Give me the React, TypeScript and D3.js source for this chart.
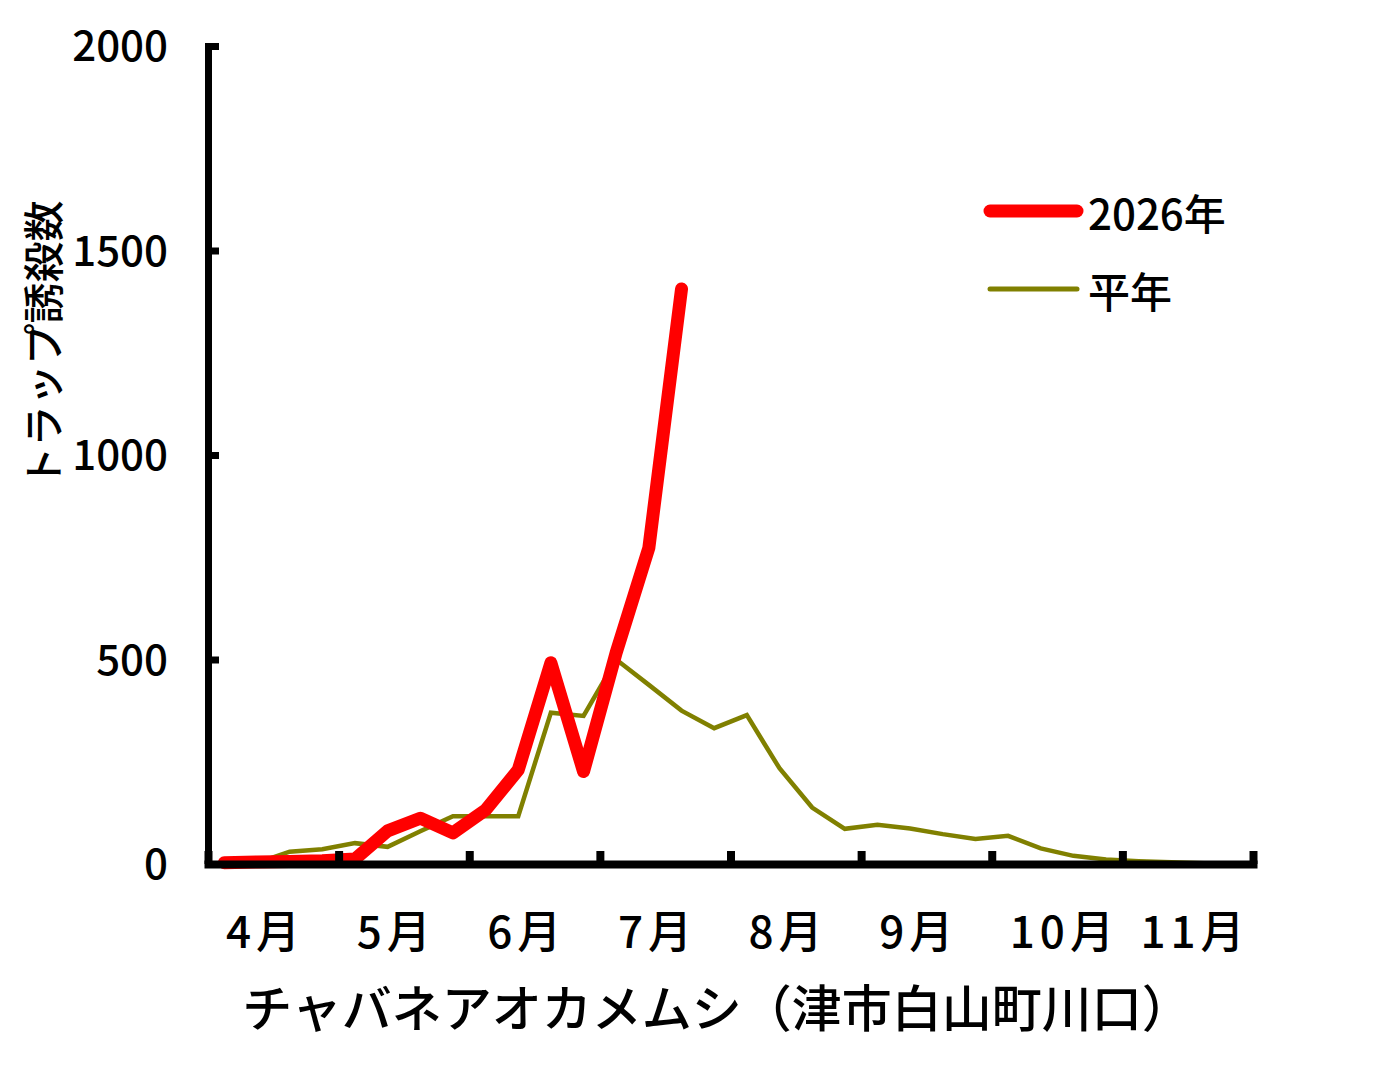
import { useEffect, useRef } from 'react'
import * as d3 from 'd3'

// 月4区切り（4月〜11月）
const MONTHS = ['4月', '5月', '6月', '7月', '8月', '9月', '10月', '11月']
const PERIODS_PER_MONTH = 4

// 平年値
const NORMAL = [2, 3, 30, 36, 51, 42, 80, 117, 117, 117, 370, 362, 500, 438, 375, 332,
  364, 234, 138, 86, 96, 87, 73, 61, 69, 38, 20, 11, 7, 4, 2, 1]
// 2026年
const Y2026 = [3, 5, 6, 8, 12, 81, 112, 76, 132, 230, 492, 226, 517, 773, 1406]

const Y_TICKS = [0, 500, 1000, 1500, 2000]

const FONT = '"Noto Sans CJK JP", "Noto Sans", sans-serif'

export default function App() {
  const svgRef = useRef<SVGSVGElement>(null)

  useEffect(() => {
    if (!svgRef.current) return
    const svg = d3.select(svgRef.current)
    svg.selectAll('*').remove()

    const width = 1380
    const height = 1066
    svg.attr('width', width).attr('height', height).attr('font-family', FONT)

    const nPeriods = MONTHS.length * PERIODS_PER_MONTH
    const x = d3.scaleLinear().domain([0, nPeriods]).range([208, 1253])
    const y = d3.scaleLinear().domain([0, 2000]).range([864, 46])

    const line = d3.line<number>()
      .x((_, i) => x(i + 0.5))
      .y(d => y(d))

    // 平年
    svg.append('path')
      .datum(NORMAL)
      .attr('d', line)
      .attr('fill', 'none')
      .attr('stroke', '#808000')
      .attr('stroke-width', 4.5)
      .attr('stroke-linejoin', 'miter')

    // 2026年
    svg.append('path')
      .datum(Y2026)
      .attr('d', line)
      .attr('fill', 'none')
      .attr('stroke', '#ff0000')
      .attr('stroke-width', 13)
      .attr('stroke-linejoin', 'round')
      .attr('stroke-linecap', 'round')

    // Axes
    svg.append('g')
      .attr('transform', `translate(208,0)`)
      .call(d3.axisLeft(y).tickValues(Y_TICKS).tickFormat(d3.format('d'))
        .tickSizeInner(-11).tickSizeOuter(0).tickPadding(40))
      .call(g => g.select('.domain').attr('stroke', '#000').attr('stroke-width', 7).attr('stroke-linecap', 'square'))
      .call(g => g.selectAll('.tick line').attr('stroke', '#000').attr('stroke-width', 7))
      .call(g => g.selectAll('.tick text')
        .attr('fill', '#000')
        .attr('font-size', 42)
        .attr('font-weight', 500)
        .attr('font-family', FONT)
        .attr('dy', '0.35em'))

    const monthTicks = d3.range(0, nPeriods + 1, PERIODS_PER_MONTH)
    svg.append('g')
      .attr('transform', `translate(0,864)`)
      .call(d3.axisBottom(x).tickValues(monthTicks).tickSizeInner(-13).tickSizeOuter(0).tickFormat(() => ''))
      .call(g => g.select('.domain').attr('stroke', '#000').attr('stroke-width', 8).attr('stroke-linecap', 'square'))
      .call(g => g.selectAll('.tick line').attr('stroke', '#000').attr('stroke-width', 8))

    // Month labels
    svg.append('g')
      .selectAll('text')
      .data(MONTHS)
      .join('text')
      .attr('x', (_, i) => x(i * PERIODS_PER_MONTH) + 18)
      .attr('y', 929)
      .attr('dominant-baseline', 'central')
      .attr('font-size', 44)
      .attr('font-weight', 500)
      .attr('letter-spacing', 5)
      .text(d => d)

    // Axis titles
    svg.append('text')
      .attr('x', 717)
      .attr('y', 1005)
      .attr('text-anchor', 'middle')
      .attr('dominant-baseline', 'central')
      .attr('font-size', 50)
      .attr('font-weight', 500)
      .text('チャバネアオカメムシ（津市白山町川口）')

    svg.append('text')
      .attr('transform', 'translate(41,344) rotate(-90)')
      .attr('text-anchor', 'middle')
      .attr('dominant-baseline', 'central')
      .attr('font-size', 41)
      .attr('font-weight', 500)
      .text('トラップ誘殺数')

    // Legend
    const legend = [
      { label: '2026年', color: '#ff0000', w: 13, y: 211 },
      { label: '平年', color: '#808000', w: 5, y: 289 },
    ]
    const lg = svg.append('g')
    legend.forEach(l => {
      lg.append('line')
        .attr('x1', 990).attr('x2', 1077)
        .attr('y1', l.y).attr('y2', l.y)
        .attr('stroke', l.color)
        .attr('stroke-width', l.w)
        .attr('stroke-linecap', 'round')
      lg.append('text')
        .attr('x', 1088)
        .attr('y', l.y)
        .attr('dominant-baseline', 'central')
        .attr('font-size', 42)
        .attr('font-weight', 500)
        .text(l.label)
    })
  }, [])

  return (
    <div style={{ position: 'absolute', left: 0, top: 0 }}>
      <svg ref={svgRef} style={{ display: 'block' }} />
    </div>
  )
}
